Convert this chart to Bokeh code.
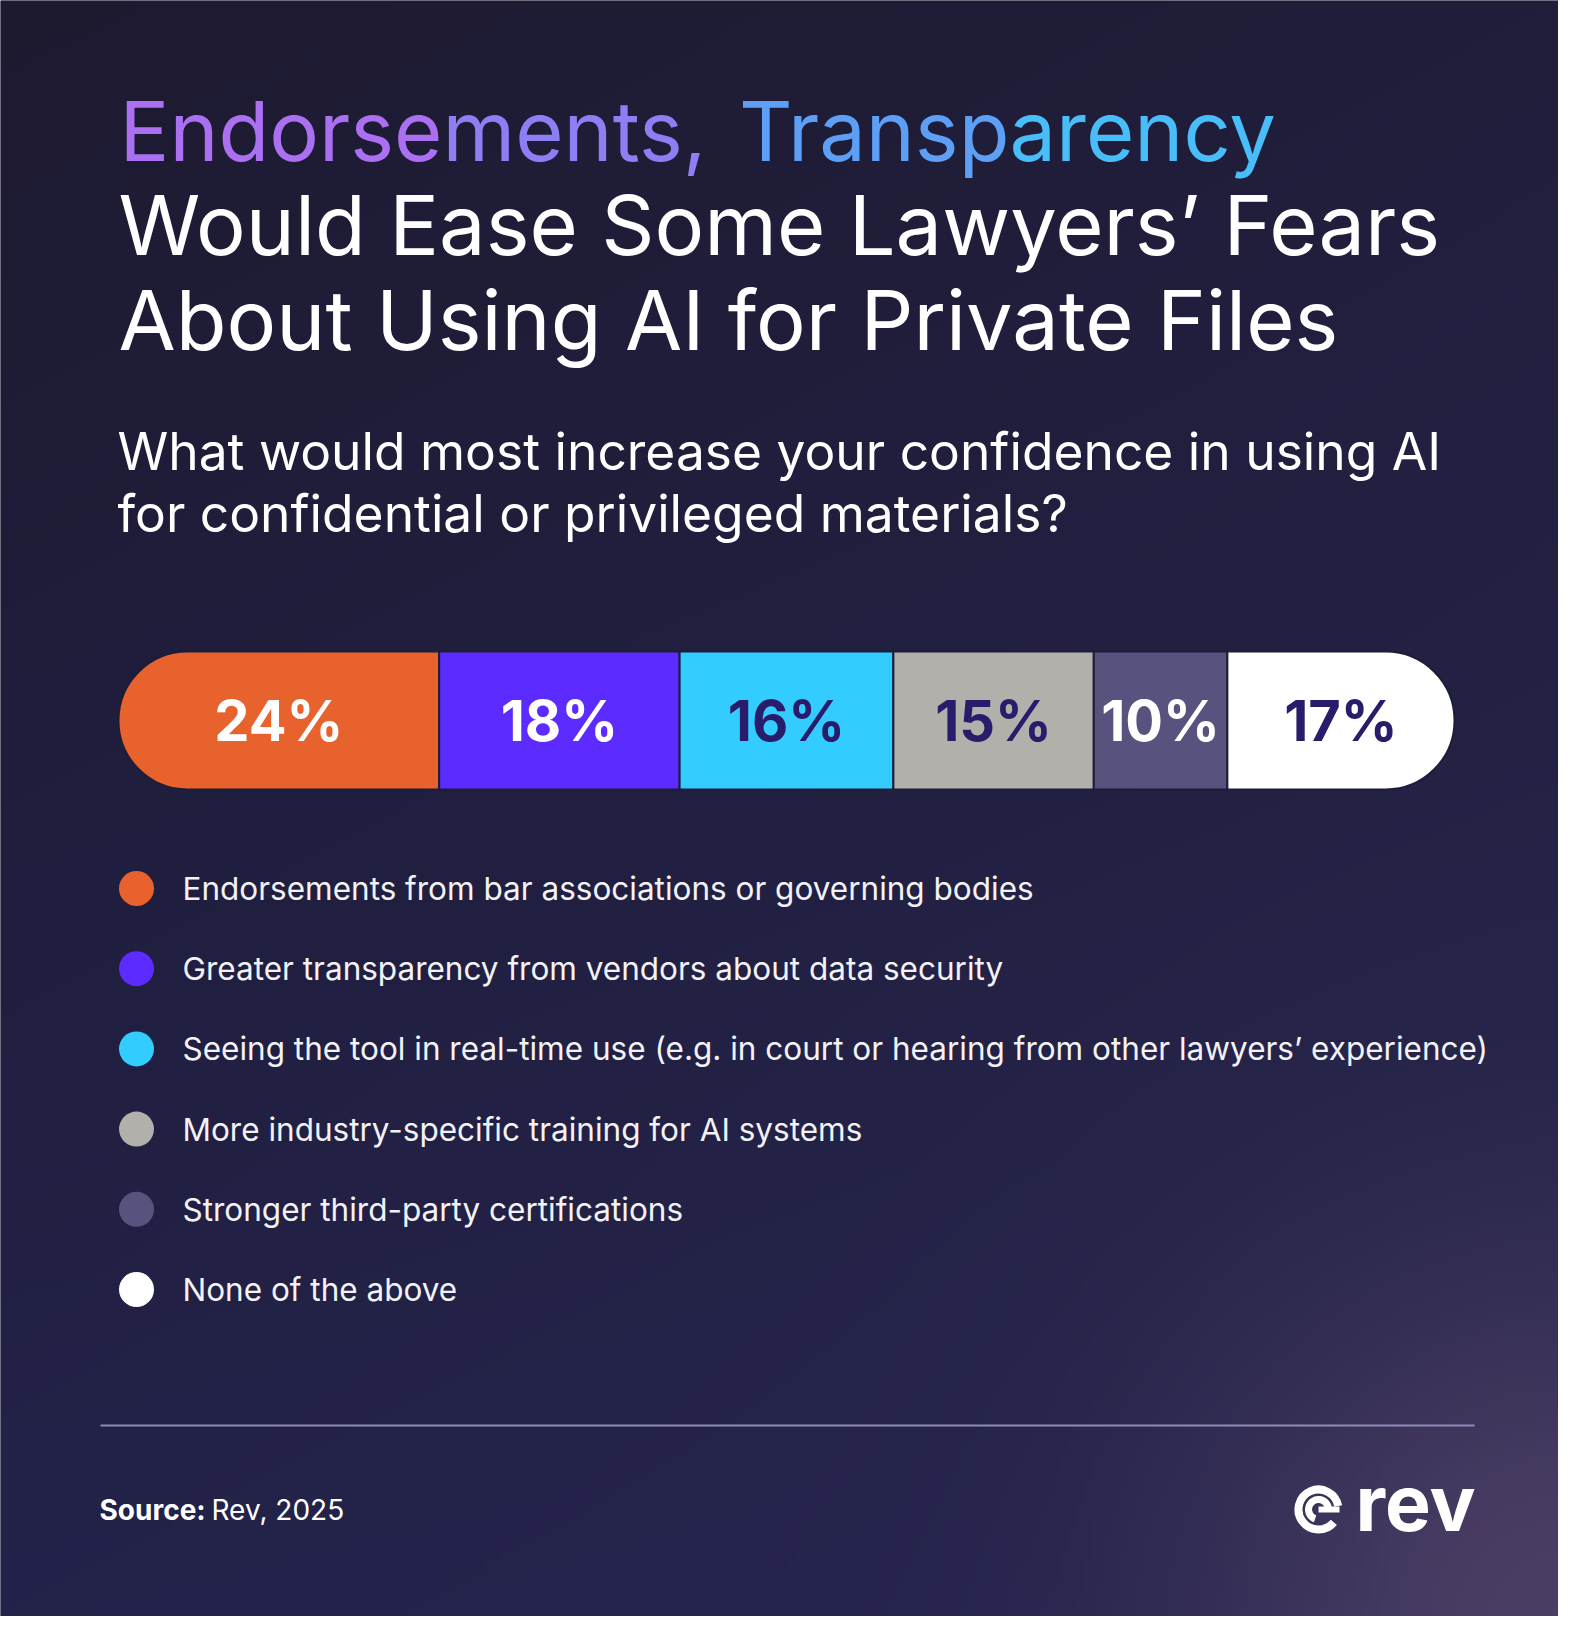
import numpy as np
from bokeh.plotting import figure
from bokeh.models import Range1d, Label
from bokeh.core.properties import value
from bokeh.embed import file_html
from bokeh.resources import INLINE

# ---------------- data ----------------
categories = [
    "Endorsements from bar associations or governing bodies",
    "Greater transparency from vendors about data security",
    "Seeing the tool in real-time use (e.g. in court or hearing from other lawyers\u2019 experience)",
    "More industry-specific training for AI systems",
    "Stronger third-party certifications",
    "None of the above",
]
shares = [24, 18, 16, 15, 10, 17]
colors = ["#E8622E", "#5B2BFF", "#33CCFF", "#B2B0AB", "#58537E", "#FFFFFF"]
label_colors = ["#FFFFFF", "#FFFFFF", "#291C6B", "#291C6B", "#FFFFFF", "#291C6B"]

# first title line, split in pieces to imitate the colour gradient:
# (left piece, right piece, joint x in px, left colour, right colour)
title_line1 = [("Endorse", "ments,", 442, "#AA70F1", "#8C7FF4"),
               ("Transp", "arency", 1009, "#5E9FF6", "#48BDF7")]
title_lines = ["Would Ease Some Lawyers\u2019 Fears", "About Using AI for Private Files"]
subtitle_lines = ["What would most increase your confidence in using AI",
                  "for confidential or privileged materials?"]

# ---------------- canvas geometry ----------------
W, H = 1558, 1616
BAR_L, BAR_R = 118, 1454          # pixel span of the 100% bar
S = (BAR_R - BAR_L) / 100.0       # px per percent
XS = -BAR_L / S
XE = XS + W / S


def X(px):
    return XS + px / S


def Y(py):
    return H - py


p = figure(width=W, height=H, x_range=Range1d(XS, XE), y_range=Range1d(0, H),
           output_backend="svg", toolbar_location=None, min_border=0)
p.axis.visible = False
p.grid.visible = False
p.outline_line_color = None
p.background_fill_color = "#1f1c38"
p.border_fill_color = "#1f1c38"

# ---------------- background gradient (decorative) ----------------
gh, gw = 200, 200
yy, xx = np.mgrid[0:gh, 0:gw]
fy = yy / (gh - 1)   # 0 bottom -> 1 top
fx = xx / (gw - 1)


def hexrgb(h):
    h = h.lstrip("#")
    return np.array([int(h[i:i + 2], 16) for i in (0, 2, 4)], dtype=float)


TL, TR, BL, BR = hexrgb("#1d1a30"), hexrgb("#211e3c"), hexrgb("#23224a"), hexrgb("#27264f")
top = TL[None, None, :] * (1 - fx[..., None]) + TR[None, None, :] * fx[..., None]
bot = BL[None, None, :] * (1 - fx[..., None]) + BR[None, None, :] * fx[..., None]
col = bot * (1 - fy[..., None]) + top * fy[..., None]
d2 = ((1 - fx) * W) ** 2 + (fy * H) ** 2
glow = np.exp(-d2 / (360.0 ** 2))
col = col + glow[..., None] * np.array([36, 24, 22])[None, None, :]
col = np.clip(col, 0, 255).astype(np.uint32)
img = (255 << 24) | (col[..., 2] << 16) | (col[..., 1] << 8) | col[..., 0]
p.image_rgba(image=[img.astype(np.uint32)], x=XS, y=0, dw=XE - XS, dh=H)

# ---------------- title ----------------
FONT = "Inter"
for left_txt, right_txt, jx, c1, c2 in title_line1:
    p.add_layout(Label(x=X(jx), y=Y(130), text=left_txt, text_color=c1, text_font=FONT,
                       text_font_size="83px", text_baseline="alphabetic", text_align="right"))
    p.add_layout(Label(x=X(jx), y=Y(130), text=right_txt, text_color=c2, text_font=FONT,
                       text_font_size="83px", text_baseline="alphabetic", text_align="left"))
for i, txt in enumerate(title_lines):
    p.add_layout(Label(x=X(118), y=Y(224 + 95 * i), text=txt, text_color="#FFFFFF",
                       text_font=FONT, text_font_size="83px", text_baseline="alphabetic"))
for i, txt in enumerate(subtitle_lines):
    p.add_layout(Label(x=X(117), y=Y(450 + 62 * i), text=txt, text_color="#FFFFFF",
                       text_font=FONT, text_font_size="51.5px", text_baseline="alphabetic"))

# ---------------- stacked bar ----------------
cum = np.concatenate([[0], np.cumsum(shares)])
lefts = cum[:-1]
rights = cum[1:]
bar_y = Y(720)
bar_h = 138
n = len(shares)
gap_col = "#1f1c3a"
for idx in range(n):
    if idx == 0:
        br = (69, 0, 0, 69)
    elif idx == n - 1:
        br = (0, 69, 69, 0)
    else:
        br = 0
    p.hbar(y=[bar_y], left=[lefts[idx]], right=[rights[idx]], height=bar_h,
           fill_color=colors[idx], line_color=gap_col, line_width=2, border_radius=br)

centers = (lefts + rights) / 2
p.text(x=list(centers), y=[bar_y] * n, text=[f"{v}%" for v in shares],
       text_color=label_colors, text_font=value(FONT), text_font_style="bold",
       text_font_size=value("56px"), text_align="center", text_baseline="middle")

# ---------------- legend ----------------
leg_y = [Y(888 + 80.2 * i) for i in range(n)]
p.scatter(x=[X(136)] * n, y=leg_y, size=35, marker="circle", fill_color=colors, line_color=None)
for i, txt in enumerate(categories):
    p.add_layout(Label(x=X(182), y=leg_y[i], text=txt, text_color="#F2F2F7",
                       text_font=FONT, text_font_size="31.5px", text_baseline="alphabetic"))

# ---------------- footer ----------------
p.segment(x0=[X(100)], x1=[X(1474)], y0=[Y(1425)], y1=[Y(1425)], line_color="#8E8CB8", line_width=2)
p.add_layout(Label(x=X(99), y=Y(1509), text="Source:", text_color="#FFFFFF", text_font=FONT,
                   text_font_style="bold", text_font_size="28px", text_baseline="alphabetic"))
p.add_layout(Label(x=X(211), y=Y(1509), text="Rev, 2025", text_color="#FFFFFF", text_font=FONT,
                   text_font_size="28px", text_baseline="alphabetic"))

# logo
cx, cy = X(1318), Y(1509)
p.arc(x=[cx], y=[cy], radius=20 / S, start_angle=np.deg2rad(10), end_angle=np.deg2rad(320),
      line_color="#FFFFFF", line_width=8)
p.arc(x=[cx], y=[cy], radius=10 / S, start_angle=np.deg2rad(0), end_angle=np.deg2rad(250),
      line_color="#FFFFFF", line_width=7)
p.segment(x0=[cx], x1=[cx + 21 / S], y0=[cy], y1=[cy], line_color="#FFFFFF", line_width=6)
p.add_layout(Label(x=X(1355), y=Y(1502), text="rev", text_color="#FFFFFF", text_font=FONT,
                   text_font_style="bold", text_font_size="77px", text_baseline="alphabetic"))

open("out.html", "w").write(file_html(p, INLINE))
